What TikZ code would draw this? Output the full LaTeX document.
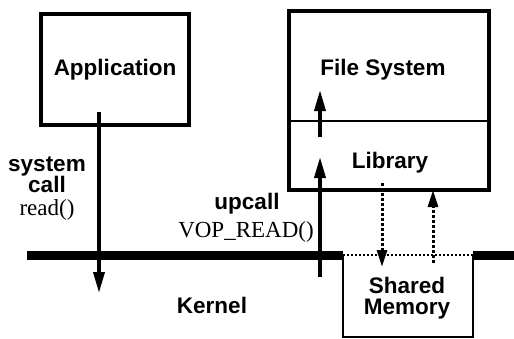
\documentclass[tikz,border=0pt]{standalone}
\usepackage{fontspec}
\setmainfont{Liberation Serif}
\setsansfont{Liberation Sans}
\usetikzlibrary{arrows.meta}

\begin{document}
\begin{tikzpicture}[x=1pt, y=-1pt, font=\fontsize{23}{21}\selectfont,
    lbl/.style = {font=\fontsize{22.5}{21}\selectfont\sffamily\bfseries, align=center},
    box/.style = {lbl, draw, line width=3.5pt, inner sep=0pt},
    flow/.style = {line width=3.5pt, -{Triangle[length=21pt, width=11pt]}},
    dots/.style = {line width=3pt, dash pattern=on 3pt off 2pt, -{Triangle[length=17pt, width=10pt]}}]
    \useasboundingbox (0,0) rectangle (514,338);

    \node[box, minimum width=148pt, minimum height=111pt] (app) at (115,69.5) {Application};
    \node[box, minimum width=200pt, minimum height=179pt] (fs) at (389,100.5) {};
    \node[lbl] (fsname) at (383,70) {File System};
    \node[lbl] (lib) at (390,163) {Library};
    \coordinate (divl) at (289,121);
    \coordinate (divr) at (489,121);
    \draw[line width=1.3pt] (divl) -- (divr);

    % kernel boundary and shared memory
    \coordinate (k1) at (27,255);
    \coordinate (k2) at (343,255);
    \coordinate (k3) at (473,255);
    \coordinate (k4) at (514,255);
    \coordinate (m1) at (343,337);
    \coordinate (m2) at (473,337);
    \draw[line width=9pt] (k1) -- (k2);
    \draw[line width=9pt] (k3) -- (k4);
    \draw[line width=1.3pt] (k2) -- (m1) -- (m2) -- (k3);
    \draw[line width=1.8pt, dash pattern=on 2pt off 2pt] (k2) -- (k3);
    \node[lbl] (shm) at (407,298) {Shared\\Memory};
    \node[lbl] (kernel) at (212,305) {Kernel};

    \node[lbl] (sys) at (47,175) {system\\call};
    \node (read) at (47,210) {read()};
    \node[lbl] (upcall) at (247,204) {upcall};
    \node (vop) at (246,232) {VOP\_READ()};

    \coordinate (a1) at (99,112);
    \coordinate (a2) at (99,293);
    \coordinate (u1) at (320,277);
    \coordinate (u2) at (320,157);
    \coordinate (u3) at (320,137);
    \coordinate (u4) at (320,90);
    \coordinate (d1) at (382,183);
    \coordinate (d2) at (382,267);
    \coordinate (d3) at (433,263);
    \coordinate (d4) at (433,190);

    \draw[flow] (a1) -- (a2);
    \draw[flow] (u1) -- (u2);
    \draw[flow] (u3) -- (u4);
    \draw[dots] (d1) -- (d2);
    \draw[dots] (d3) -- (d4);

\end{tikzpicture}
\end{document}
